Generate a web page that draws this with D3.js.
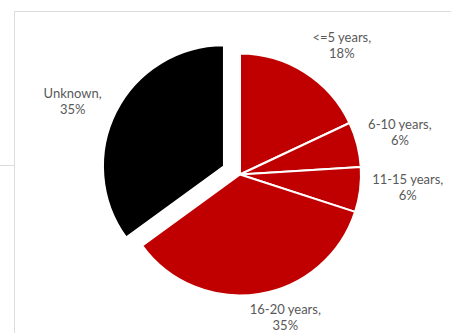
<!DOCTYPE html>
<html><head><meta charset="utf-8">
<script src="https://cdn.jsdelivr.net/npm/d3@7"></script>
<style>html,body{margin:0;padding:0;background:#fff;}svg{display:block;}</style>
</head><body>
<script>
const categories = ["<=5 years", "6-10 years", "11-15 years", "16-20 years", "Unknown"];
const values = [18, 6, 6, 35, 35];
const colors = ["#C00000", "#C00000", "#C00000", "#C00000", "#000000"];
const exploded = [false, false, false, false, true];

const W = 451, H = 333;
const svg = d3.select("body").append("svg").attr("width", W).attr("height", H);

// frame lines
svg.append("line").attr("x1", 14.5).attr("x2", W).attr("y1", 11.5).attr("y2", 11.5).attr("stroke", "#dcdcdc");
svg.append("line").attr("x1", 14.5).attr("x2", 14.5).attr("y1", 11.5).attr("y2", H).attr("stroke", "#dcdcdc");
svg.append("line").attr("x1", 0).attr("x2", 14.5).attr("y1", 165.5).attr("y2", 165.5).attr("stroke", "#dcdcdc");

const cx = 240, cy = 174.5, R = 121, explode = 18, labelR = 162;
const pie = d3.pie().sort(null).value(d => d)(values);
const arc = d3.arc().innerRadius(0).outerRadius(R);
const nudges = [[15, 12], [3, 3], [7, -3], [20, -13], [-7, 13]];

const g = svg.append("g").attr("transform", `translate(${cx},${cy})`);
pie.forEach((p, i) => {
  const mid = (p.startAngle + p.endAngle) / 2;
  const off = exploded[i] ? explode : 0;
  const ox = Math.sin(mid) * off, oy = -Math.cos(mid) * off;
  g.append("path").attr("d", arc(p)).attr("transform", `translate(${ox},${oy})`)
    .attr("fill", colors[i]).attr("stroke", "#fff").attr("stroke-width", 2).attr("stroke-linejoin", "round");
  const lx = ox + Math.sin(mid) * labelR + nudges[i][0];
  const ly = oy - Math.cos(mid) * labelR + nudges[i][1];
  const t = g.append("text").attr("text-anchor", "middle").attr("font-family", "Lato, 'Open Sans', sans-serif")
    .attr("font-size", 13).attr("fill", "#595959");
  t.append("tspan").attr("x", lx).attr("y", ly - 8).text(categories[i] + ",");
  t.append("tspan").attr("x", lx).attr("y", ly + 8).text(Math.round(values[i] / d3.sum(values) * 100) + "%");
});
</script>
</body></html>
